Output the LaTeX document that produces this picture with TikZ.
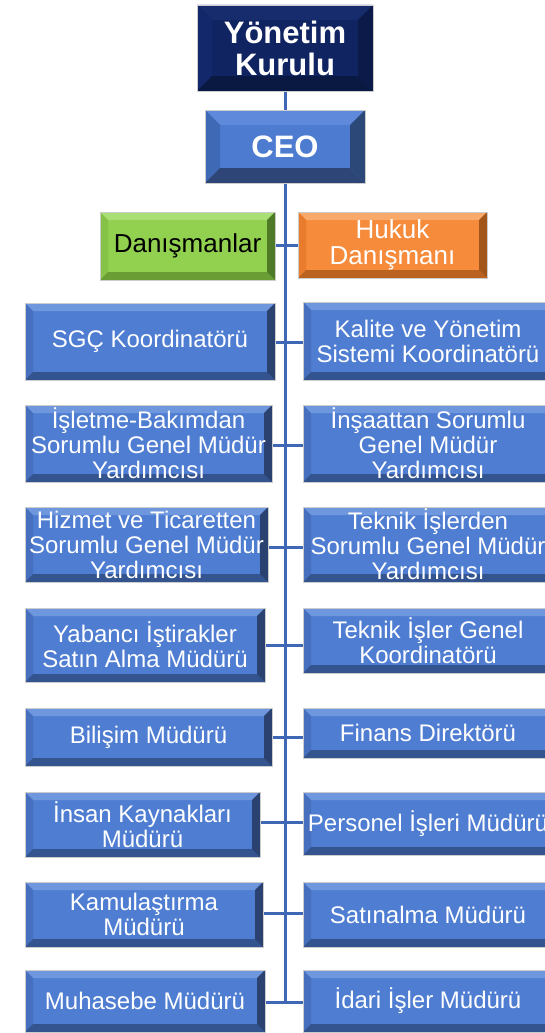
\documentclass[tikz,border=0pt]{standalone}
\usepackage{fontspec}
\setmainfont{Liberation Sans}
\pgfdeclarelayer{bg}
\pgfsetlayers{bg,main}
\definecolor{bfill}{HTML}{4E7DD2}
\definecolor{btop}{HTML}{6E97DE}
\definecolor{bleft}{HTML}{466FBE}
\definecolor{bbot}{HTML}{34548F}
\definecolor{bright}{HTML}{2B4170}
\definecolor{nfill}{HTML}{0F2461}
\definecolor{ntop}{HTML}{162C6C}
\definecolor{nleft}{HTML}{12286A}
\definecolor{nbot}{HTML}{0A1942}
\definecolor{nright}{HTML}{0B1A48}
\definecolor{cfill}{HTML}{4C7BD0}
\definecolor{ctop}{HTML}{5F8ADB}
\definecolor{cleft}{HTML}{3F69B5}
\definecolor{cbot}{HTML}{2E4677}
\definecolor{cright}{HTML}{2C4878}
\definecolor{gfill}{HTML}{92D050}
\definecolor{gtop}{HTML}{AADF75}
\definecolor{gleft}{HTML}{86C248}
\definecolor{gbot}{HTML}{6A9E35}
\definecolor{gright}{HTML}{4F7A27}
\definecolor{ofill}{HTML}{F68B3C}
\definecolor{otop}{HTML}{F9A96A}
\definecolor{oleft}{HTML}{E87B2C}
\definecolor{obot}{HTML}{BA6220}
\definecolor{oright}{HTML}{A2561A}
\definecolor{lineblue}{HTML}{3F67B5}
\newcommand\bevelpic[5]{%
 \path (path picture bounding box.north west) coordinate (pNW)
       (path picture bounding box.north east) coordinate (pNE)
       (path picture bounding box.south west) coordinate (pSW)
       (path picture bounding box.south east) coordinate (pSE);
 \fill[#1] (pNW) -- (pNE) -- ([xshift=-#5,yshift=-#5]pNE) -- ([xshift=#5,yshift=-#5]pNW) -- cycle;
 \fill[#2] (pNW) -- ([xshift=#5,yshift=-#5]pNW) -- ([xshift=#5,yshift=#5]pSW) -- (pSW) -- cycle;
 \fill[#3] (pSW) -- ([xshift=#5,yshift=#5]pSW) -- ([xshift=-#5,yshift=#5]pSE) -- (pSE) -- cycle;
 \fill[#4] (pSE) -- ([xshift=-#5,yshift=#5]pSE) -- ([xshift=-#5,yshift=-#5]pNE) -- (pNE) -- cycle;
}
\tikzset{
 boxbase/.style={draw=gray!40, line width=0.7pt, align=center, inner sep=0pt},
 bluebox/.style={boxbase, fill=bfill, text=white, font=\fontsize{24}{25}\selectfont,
   path picture={\bevelpic{btop}{bleft}{bbot}{bright}{8pt}}},
 navybox/.style={boxbase, fill=nfill, text=white, font=\fontsize{31}{32}\selectfont\bfseries,
   path picture={\bevelpic{ntop}{nleft}{nbot}{nright}{15pt}}},
 ceobox/.style={boxbase, fill=cfill, text=white, font=\fontsize{31}{32}\selectfont\bfseries,
   path picture={\bevelpic{ctop}{cleft}{cbot}{cright}{15pt}}},
 greenbox/.style={boxbase, fill=gfill, text=black, font=\fontsize{26}{26.5}\selectfont,
   path picture={\bevelpic{gtop}{gleft}{gbot}{gright}{8pt}}},
 orangebox/.style={boxbase, fill=ofill, text=white, font=\fontsize{26}{26.5}\selectfont,
   path picture={\bevelpic{otop}{oleft}{obot}{oright}{8pt}}},
 conn/.style={draw=lineblue, line width=3pt},
}
\begin{document}
\begin{tikzpicture}[x=1pt,y=-1pt]
\useasboundingbox (0,0) rectangle (545,1033);
\clip (0,0) rectangle (545,1033);
% top
\node[navybox, minimum width=176pt, minimum height=86pt] (yk) at (285,48) {Yönetim\\Kurulu};
\node[ceobox, minimum width=160pt, minimum height=73pt] (ceo) at (285,146.5) {CEO};
\node[greenbox, minimum width=175pt, minimum height=68pt] (dan) at (187.5,246) {Danışmanlar};
\node[orangebox, minimum width=189pt, minimum height=66pt] (huk) at (392.5,245) {Hukuk\\Danışmanı};
% left column
\node[bluebox, minimum width=250pt, minimum height=77pt] (l1) at (150,341.5) {SGÇ Koordinatörü};
\node[bluebox, minimum width=247pt, minimum height=77pt] (l2) at (148.5,443.5) {İşletme-Bakımdan\\Sorumlu Genel Müdür\\Yardımcısı};
\node[bluebox, minimum width=243pt, minimum height=75pt] (l3) at (146.5,544.5) {Hizmet ve Ticaretten\\Sorumlu Genel Müdür\\Yardımcısı};
\node[bluebox, minimum width=240pt, minimum height=74pt] (l4) at (145,645) {Yabancı İştirakler\\Satın Alma Müdürü};
\node[bluebox, minimum width=247pt, minimum height=58pt] (l5) at (148.5,737) {Bilişim Müdürü};
\node[bluebox, minimum width=235pt, minimum height=65pt] (l6) at (142.5,824.5) {İnsan Kaynakları\\Müdürü};
\node[bluebox, minimum width=238pt, minimum height=65pt] (l7) at (144,914.5) {Kamulaştırma\\Müdürü};
\node[bluebox, minimum width=240pt, minimum height=62pt] (l8) at (145,1001) {Muhasebe Müdürü};
% right column
\node[bluebox, minimum width=250pt, minimum height=78pt] (r1) at (428,341) {Kalite ve Yönetim\\Sistemi Koordinatörü};
\node[bluebox, minimum width=250pt, minimum height=77pt] (r2) at (428,443.5) {İnşaattan Sorumlu\\Genel Müdür\\Yardımcısı};
\node[bluebox, minimum width=250pt, minimum height=75pt] (r3) at (428,544.5) {Teknik İşlerden\\Sorumlu Genel Müdür\\Yardımcısı};
\node[bluebox, minimum width=250pt, minimum height=65pt] (r4) at (428,640.5) {Teknik İşler Genel\\Koordinatörü};
\node[bluebox, minimum width=250pt, minimum height=50pt] (r5) at (428,733) {Finans Direktörü};
\node[bluebox, minimum width=250pt, minimum height=63pt] (r6) at (428,823.5) {Personel İşleri Müdürü};
\node[bluebox, minimum width=250pt, minimum height=65pt] (r7) at (428,914.5) {Satınalma Müdürü};
\node[bluebox, minimum width=250pt, minimum height=62pt] (r8) at (428,1001) {İdari İşler Müdürü};
% junctions on trunk
\coordinate (j0) at (285,245);
\coordinate (j1) at (285,342);
\coordinate (j2) at (285,445);
\coordinate (j3) at (285,547);
\coordinate (j4) at (285,645);
\coordinate (j5) at (285,737);
\coordinate (j6) at (285,822);
\coordinate (j7) at (285,913);
\coordinate (j8) at (285,1002);
\begin{pgfonlayer}{bg}
\draw[conn] (yk.south) -- (j8);
\draw[conn] (dan.east |- j0) -- (huk.west |- j0);
\foreach \i in {1,...,8}{
  \draw[conn] (l\i.east |- j\i) -- (r\i.west |- j\i);
}
\end{pgfonlayer}
\end{tikzpicture}
\end{document}
